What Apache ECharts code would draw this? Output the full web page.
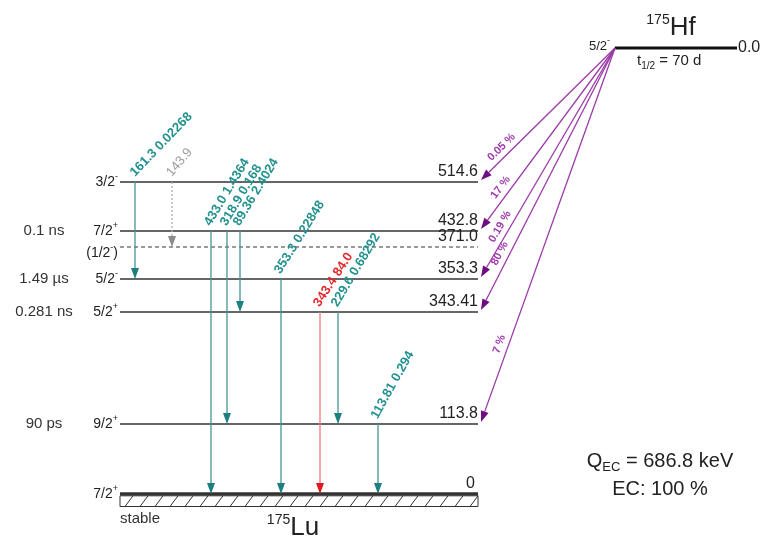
<!DOCTYPE html>
<html>
<head>
<meta charset="utf-8">
<script src="https://cdn.jsdelivr.net/npm/echarts@6/dist/echarts.min.js"></script>
<style>
  html, body { margin: 0; padding: 0; background: #fff; }
  #chart { width: 763px; height: 540px; }
</style>
</head>
<body>
<div id="chart"></div>
<script>
// 175Hf -> 175Lu electron-capture decay scheme

// ---- daughter levels (175Lu) ----
const levelEnergy = ['514.6', '432.8', '371.0', '353.3', '343.41', '113.8', '0'];
const levelSpin = ['3/2-', '7/2+', '(1/2-)', '5/2-', '5/2+', '9/2+', '7/2+'];
const levelHalfLife = ['', '0.1 ns', '', '1.49 µs', '0.281 ns', '90 ps', ''];
const levelTentative = [false, false, true, false, false, false, false];
// schematic height of each level line (not to energy scale)
const levelRow = [312, 263, 247, 215, 182, 70, 0];

// ---- parent state (175Hf) ----
const parentEnergy = '0.0';
const parentSpin = '5/2-';
const parentHalfLife = '70 d';
const parentRow = 446;
const qValue = '686.8 keV';
const ecTotal = '100 %';

// ---- EC feeding of the daughter levels ----
const ecLevel = ['514.6', '432.8', '353.3', '343.41', '113.8'];
const ecBranch = ['0.05 %', '17 %', '0.19 %', '80 %', '7 %'];

// ---- gamma transitions: energy (keV), intensity (%) ----
const gammaEnergy = ['161.3', '143.9', '433.0', '318.9', '89.36', '353.3', '343.4', '229.6', '113.81'];
const gammaIntensity = ['0.02268', '', '1.4364', '0.168', '2.4024', '0.22848', '84.0', '0.68292', '0.294'];
const gammaFrom = ['514.6', '514.6', '432.8', '432.8', '432.8', '353.3', '343.41', '343.41', '113.8'];
const gammaTo = ['353.3', '371.0', '0', '113.8', '343.41', '0', '0', '113.8', '0'];
const gammaColumn = [135, 172, 211, 227, 240, 281, 320, 338, 378];
const gammaKind = ['normal', 'tentative', 'normal', 'normal', 'normal', 'normal', 'strong', 'normal', 'normal'];

// ---- layout & styling ----
const LEVEL_X0 = 120, LEVEL_X1 = 478;
const PARENT_X0 = 615, PARENT_X1 = 737;
const SPIN_X = 118, HALF_X = 44;
const GAMMA_TILT = [46, 50, 59, 59, 59, 58, 57, 59, 61];
const FONT = '"Liberation Sans", Arial, Helvetica, sans-serif';
const INK = '#222';
const GAMMA_STYLE = {
  normal:    { line: '#3f9797', head: '#1e7f80', text: '#23918f', dash: null, weight: 'bold' },
  tentative: { line: '#b0b0b0', head: '#8a8a8a', text: '#9c9c9c', dash: [2, 2], weight: 'normal' },
  strong:    { line: '#e87a7a', head: '#e3161c', text: '#e5282d', dash: null, weight: 'bold' }
};
const EC_LINE = '#9a3aa6', EC_HEAD = '#6f0c82', EC_TEXT = '#9f3cad';

const rowOf = e => levelRow[levelEnergy.indexOf(e)];

function spinRich(s) {
  const m = s.match(/^(\(?)(\d+\/\d+)([+-])(\)?)$/);
  let t = '{b|' + m[1] + m[2] + '}{s|' + m[3] + '}';
  if (m[4]) t += '{b|' + m[4] + '}';
  return t;
}
const spinStyles = size => ({
  b: { fontSize: size, lineHeight: 20, verticalAlign: 'middle', fill: INK, fontFamily: FONT },
  s: { fontSize: 9, lineHeight: 9, verticalAlign: 'top', fill: INK, fontFamily: FONT }
});

function head(tip, from, len, half) {
  const dx = tip[0] - from[0], dy = tip[1] - from[1];
  const L = Math.hypot(dx, dy), ux = dx / L, uy = dy / L;
  const bx = tip[0] - ux * len, by = tip[1] - uy * len;
  return { base: [bx, by], pts: [[tip[0], tip[1]], [bx - uy * half, by + ux * half], [bx + uy * half, by - ux * half]] };
}

function txt(x, y, text, style, rotation) {
  return {
    type: 'text', x: x, y: y, rotation: rotation || 0,
    style: Object.assign({ x: 0, y: 0, text: text, fontFamily: FONT, fill: INK }, style)
  };
}

// level lines with spin, energy and half-life labels
function renderLevel(params, api) {
  const i = params.dataIndex;
  const p0 = api.coord([LEVEL_X0, levelRow[i]]);
  const p1 = api.coord([LEVEL_X1, levelRow[i]]);
  const y = p0[1];
  const ground = levelEnergy[i] === '0';
  const tent = levelTentative[i];
  const kids = [];
  kids.push({
    type: 'line', shape: { x1: p0[0], y1: y, x2: p1[0], y2: y },
    style: { stroke: tent ? '#7a7a7a' : '#333', lineWidth: ground ? 3.5 : 1.5, lineDash: tent ? [4, 3] : null }
  });
  if (ground) {
    const top = y + 1.8, bot = y + 12.5;
    kids.push({ type: 'rect', shape: { x: p0[0], y: top, width: p1[0] - p0[0], height: bot - top },
      style: { fill: '#fff', stroke: '#333', lineWidth: 1 } });
    for (let x = p0[0] + 5; x + 8 <= p1[0]; x += 15) {
      kids.push({ type: 'line', shape: { x1: x, y1: bot, x2: x + 8, y2: top },
        style: { stroke: '#333', lineWidth: 1 } });
    }
    kids.push(txt(p0[0], y + 25, 'stable', { fontSize: 15, align: 'left', verticalAlign: 'middle', fill: '#333' }));
    kids.push(txt(293, y + 34, '{s|175}{b|Lu}', {
      align: 'center', verticalAlign: 'middle',
      rich: {
        b: { fontSize: 26, lineHeight: 30, verticalAlign: 'middle', fill: INK, fontFamily: FONT },
        s: { fontSize: 14, lineHeight: 14, verticalAlign: 'top', fill: INK, fontFamily: FONT }
      }
    }));
  }
  kids.push(txt(p1[0] - (ground ? 3 : 0), y - 2, levelEnergy[i],
    { fontSize: 16, align: 'right', verticalAlign: 'bottom' }));
  kids.push(txt(api.coord([SPIN_X, 0])[0], y + (tent ? 6 : 0), spinRich(levelSpin[i]),
    { align: 'right', verticalAlign: 'middle', rich: spinStyles(14) }));
  if (levelHalfLife[i]) {
    kids.push(txt(api.coord([HALF_X, 0])[0], y, levelHalfLife[i],
      { fontSize: 15, align: 'center', verticalAlign: 'middle', fill: '#333' }));
  }
  return { type: 'group', children: kids };
}

// gamma transitions: vertical arrows between levels
function renderGamma(params, api) {
  const i = params.dataIndex;
  const st = GAMMA_STYLE[gammaKind[i]];
  const top = api.coord([gammaColumn[i], rowOf(gammaFrom[i])]);
  const tip = api.coord([gammaColumn[i], rowOf(gammaTo[i])]);
  const h = head(tip, top, 11, 4);
  const label = gammaIntensity[i] ? gammaEnergy[i] + ' ' + gammaIntensity[i] : gammaEnergy[i];
  return {
    type: 'group', children: [
      { type: 'line', shape: { x1: top[0], y1: top[1], x2: h.base[0], y2: h.base[1] },
        style: { stroke: st.line, lineWidth: 1.3, lineDash: st.dash } },
      { type: 'polygon', shape: { points: h.pts }, style: { fill: st.head } },
      txt(top[0] + 2, top[1] - 3, label,
        { fontSize: 13, fontWeight: st.weight, fill: st.text, align: 'left', verticalAlign: 'bottom' },
        GAMMA_TILT[i] * Math.PI / 180)
    ]
  };
}

// EC branches: arrows from the parent state to the fed levels
function renderEC(params, api) {
  const i = params.dataIndex;
  const start = api.coord([PARENT_X0, parentRow]);
  const lv = api.coord([LEVEL_X1, rowOf(ecLevel[i])]);
  const tip = [lv[0] + 3, lv[1] - 2];
  const h = head(tip, start, 11, 4);
  const dx = start[0] - tip[0], dy = start[1] - tip[1];
  const L = Math.hypot(dx, dy);
  const t = 0.8;
  const px = start[0] - dx * t, py = start[1] - dy * t;
  // unit normal on the upper-left side of the arrow
  const nx = dy / L, ny = -dx / L;
  const d = 9;
  const rot = Math.atan2(-dy, dx);
  return {
    type: 'group', children: [
      { type: 'line', shape: { x1: start[0], y1: start[1], x2: h.base[0], y2: h.base[1] },
        style: { stroke: EC_LINE, lineWidth: 1.3 } },
      { type: 'polygon', shape: { points: h.pts }, style: { fill: EC_HEAD } },
      txt(px + nx * d, py + ny * d, ecBranch[i],
        { fontSize: 11, fontWeight: 'bold', fill: EC_TEXT, align: 'center', verticalAlign: 'middle' }, rot)
    ]
  };
}

// parent ground state
function renderParent(params, api) {
  const p0 = api.coord([PARENT_X0, parentRow]);
  const p1 = api.coord([PARENT_X1, parentRow]);
  const y = p0[1];
  return {
    type: 'group', children: [
      { type: 'line', shape: { x1: p0[0], y1: y, x2: p1[0], y2: y }, style: { stroke: '#111', lineWidth: 3 } },
      txt(p0[0] - 5, y - 2, spinRich(parentSpin), { align: 'right', verticalAlign: 'middle', rich: spinStyles(13) }),
      txt(p1[0] + 1, y, parentEnergy, { fontSize: 16, align: 'left', verticalAlign: 'middle' }),
      txt(p0[0] + 22, y + 13, '{t|t}{u|1/2}{t| = ' + parentHalfLife + '}', {
        align: 'left', verticalAlign: 'middle',
        rich: {
          t: { fontSize: 15, lineHeight: 20, verticalAlign: 'middle', fill: INK, fontFamily: FONT },
          u: { fontSize: 10, lineHeight: 10, verticalAlign: 'bottom', fill: INK, fontFamily: FONT }
        }
      }),
      txt(671, y - 5, '{s|175}{b|Hf}', {
        align: 'center', verticalAlign: 'bottom',
        rich: {
          b: { fontSize: 26, lineHeight: 30, verticalAlign: 'middle', fill: INK, fontFamily: FONT },
          s: { fontSize: 14, lineHeight: 14, verticalAlign: 'top', fill: INK, fontFamily: FONT }
        }
      })
    ]
  };
}

const chart = echarts.init(document.getElementById('chart'), null, { renderer: 'canvas' });
chart.setOption({
  animation: false,
  backgroundColor: '#fff',
  grid: { left: 0, right: 0, top: 0, bottom: 0 },
  xAxis: { type: 'value', min: 0, max: 763, show: false },
  yAxis: { type: 'value', min: -46, max: 494, show: false },
  graphic: [
    {
      type: 'text', x: 660, y: 461,
      style: {
        text: '{q|Q}{u|EC}{q| = ' + qValue + '}', align: 'center', verticalAlign: 'middle',
        rich: {
          q: { fontSize: 20, lineHeight: 26, verticalAlign: 'middle', fill: INK, fontFamily: FONT },
          u: { fontSize: 13, lineHeight: 13, verticalAlign: 'bottom', fill: INK, fontFamily: FONT }
        }
      }
    },
    {
      type: 'text', x: 660, y: 489,
      style: { text: 'EC: ' + ecTotal, align: 'center', verticalAlign: 'middle',
        fontSize: 20, fill: INK, fontFamily: FONT }
    }
  ],
  series: [
    { type: 'custom', name: 'levels', renderItem: renderLevel, data: levelRow.map(r => [LEVEL_X0, r]) },
    { type: 'custom', name: 'parent', renderItem: renderParent, data: [[PARENT_X0, parentRow]] },
    { type: 'custom', name: 'EC', renderItem: renderEC, data: ecLevel.map(e => [LEVEL_X1, rowOf(e)]) },
    { type: 'custom', name: 'gamma', renderItem: renderGamma,
      data: gammaColumn.map((x, i) => [x, rowOf(gammaFrom[i])]) }
  ]
});
</script>
</body>
</html>
